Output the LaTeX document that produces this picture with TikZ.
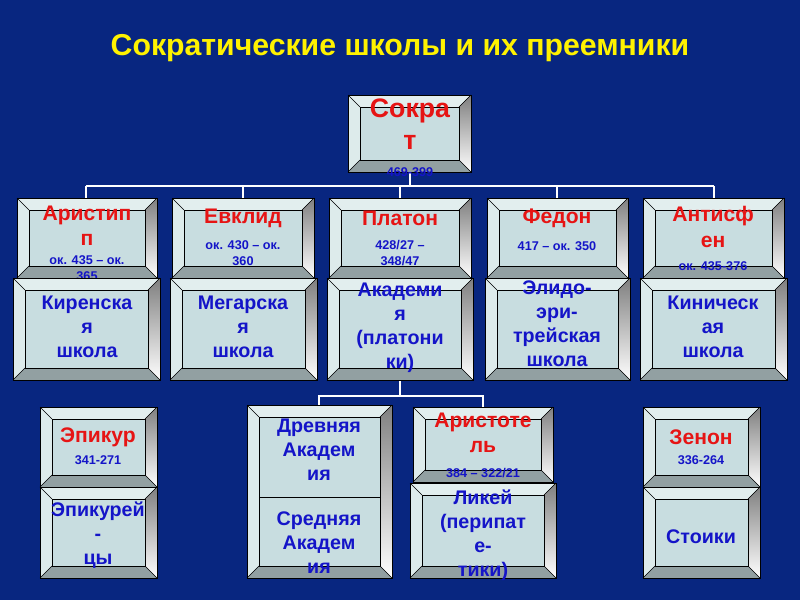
\documentclass[tikz,border=0pt]{standalone}
\usepackage{fontspec}
\setmainfont{Liberation Sans}
\usetikzlibrary{calc}
\definecolor{navy}{RGB}{8,38,128}
\definecolor{face}{RGB}{200,221,224}
\definecolor{lite}{RGB}{226,238,238}
\definecolor{shade}{RGB}{120,136,138}
\definecolor{shadeb}{RGB}{146,160,162}
\definecolor{redt}{RGB}{230,20,20}
\definecolor{bluet}{RGB}{20,20,200}
\tikzset{
  conn/.style={draw=white,line width=1.8pt},
  bev/.style={draw=black,line width=0.4pt},
  person/.style={text=redt,font=\bfseries\fontsize{15}{18}\selectfont},
  dates/.style={text=bluet,font=\bfseries\fontsize{9}{11.5}\selectfont},
  school/.style={text=bluet,font=\bfseries\fontsize{14}{17}\selectfont,align=center}
}
% bevelled box: name, x1, y1, x2, y2, text
\newcommand\bevbox[6]{%
  \fill[lite] (#2,#3) -- (#4,#3) -- ({#4-12},{#3+12}) -- ({#2+12},{#3+12}) -- cycle;
  \fill[lite!80!face] (#2,#3) -- ({#2+12},{#3+12}) -- ({#2+12},{#5-12}) -- (#2,#5) -- cycle;
  \fill[shade] (#4,#3) -- (#4,#5) -- ({#4-12},{#5-12}) -- ({#4-12},{#3+12}) -- cycle;
  \fill[shadeb] (#2,#5) -- (#4,#5) -- ({#4-12},{#5-12}) -- ({#2+12},{#5-12}) -- cycle;
  \fill[face] ({#2+12},{#3+12}) rectangle ({#4-12},{#5-12});
  \draw[bev] (#2,#3) rectangle (#4,#5);
  \draw[bev] ({#2+12},{#3+12}) rectangle ({#4-12},{#5-12});
  \draw[bev] (#2,#3) -- ({#2+12},{#3+12}) (#4,#3) -- ({#4-12},{#3+12})
             (#4,#5) -- ({#4-12},{#5-12}) (#2,#5) -- ({#2+12},{#5-12});
  \node[inner sep=0pt,align=center,minimum width={(#4-#2)*0.025cm},
        minimum height={(#5-#3)*0.025cm}] (#1) at ({(#2+#4)/2},{(#3+#5)/2}) {#6};
}
\begin{document}
\begin{tikzpicture}[x=0.025cm,y=-0.025cm]
  \fill[navy] (0,0) rectangle (800,600);
  \node[text=yellow,font=\bfseries\fontsize{21.5}{25}\selectfont] (title) at (400,48)
    {Сократические школы и их преемники};

  % connectors
  \coordinate (bus) at (410,186);
  \coordinate (bus2) at (400,396);
  \foreach \x in {86,243,400,557,714}
    \draw[conn] (\x,198) -- (\x,186);
  \draw[conn] (86,186) -- (714,186);
  \draw[conn] (410,172) -- (bus);
  \draw[conn] (319,405) -- (319,396) -- (483,396) -- (483,407);
  \draw[conn] (400,380) -- (bus2);

  % first level
  \bevbox{sokrat}{348}{95}{471}{172}{}
  \node[person,font=\bfseries\fontsize{19}{23}\selectfont,align=center] (sokratname) at (410,124) {Сокра\\т};
  \node[dates] (sokratdates) at (410,172) {469-399};

  % students
  \bevbox{aristip}{17}{198}{157}{278}{}
  \node[person,align=center] (aristipname) at (87,226) {Аристип\\п};
  \node[dates,align=center] (aristipdates) at (87,268) {ок. 435 -- ок.\\365};
  \bevbox{evklid}{172}{198}{314}{278}{}
  \node[person] (evklidname) at (243,218) {Евклид};
  \node[dates,align=center] (evkliddates) at (243,253) {ок. 430 -- ок.\\360};
  \bevbox{platon}{329}{198}{471}{278}{}
  \node[person] (platonname) at (400,218) {Платон};
  \node[dates,align=center] (platondates) at (400,253) {428/27 --\\348/47};
  \bevbox{fedon}{487}{198}{628}{278}{}
  \node[person] (fedonname) at (557,218) {Федон};
  \node[dates] (fedondates) at (557,246) {417 -- ок. 350};
  \bevbox{antisfen}{643}{198}{784}{278}{}
  \node[person,align=center] (antisfenname) at (713,227) {Антисф\\ен};
  \node[dates] (antisfendates) at (713,266) {ок. 435-376};

  % schools
  \bevbox{kiren}{13}{278}{160}{380}{}
  \node[school] (kirentext) at (87,327) {Киренска\\я\\школа};
  \bevbox{megar}{170}{278}{317}{380}{}
  \node[school] (megartext) at (243,327) {Мегарска\\я\\школа};
  \bevbox{akadem}{327}{278}{473}{380}{}
  \node[school] (akademtext) at (400,328) {Академи\\я\\(платони\\ки)};
  \bevbox{elid}{485}{278}{630}{380}{}
  \node[school] (elidtext) at (557,324) {Элидо-\\эри-\\трейская\\школа};
  \bevbox{kinik}{640}{278}{787}{380}{}
  \node[school] (kiniktext) at (713,327) {Киническ\\ая\\школа};

  % successors
  \bevbox{epikur}{40}{407}{157}{487}{}
  \node[person] (epikurname) at (98,437) {Эпикур};
  \node[dates] (epikurdates) at (98,460) {341-271};
  \bevbox{epikurei}{40}{487}{157}{578}{}
  \node[school] (epikureitext) at (98,535) {Эпикурей\\-\\цы};
  \bevbox{akadold}{247}{405}{392}{578}{}
  \draw[bev] (259,497) -- (380,497);
  \node[school] (drevn) at (319,450) {Древняя\\Академ\\ия};
  \node[school] (sredn) at (319,543) {Средняя\\Академ\\ия};
  \bevbox{aristot}{413}{407}{553}{482}{}
  \node[person,align=center] (aristotname) at (483,433) {Аристоте\\ль};
  \node[dates] (aristotdates) at (483,473) {384 -- 322/21};
  \bevbox{likei}{410}{483}{556}{578}{}
  \node[school] (likeitext) at (483,535) {Ликей\\(перипат\\е-\\тики)};
  \bevbox{zenon}{643}{407}{760}{487}{}
  \node[person] (zenonname) at (701,437) {Зенон};
  \node[dates] (zenondates) at (701,460) {336-264};
  \bevbox{stoiki}{643}{487}{760}{578}{}
  \node[school] (stoikitext) at (701,537) {Стоики};
\end{tikzpicture}
\end{document}
